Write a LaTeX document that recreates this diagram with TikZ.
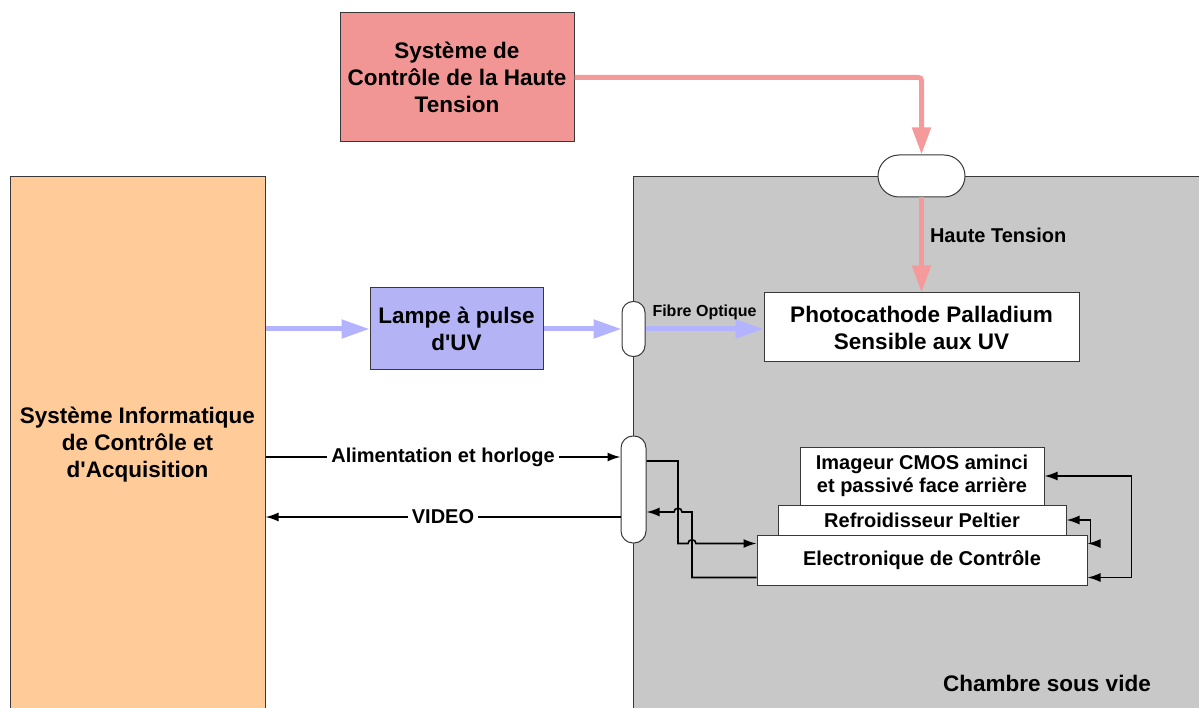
\documentclass[tikz,border=0pt]{standalone}
\usepackage{fontspec}
\setmainfont{Liberation Sans}
\usetikzlibrary{arrows.meta}

\definecolor{sicafond}{HTML}{FFCC99}
\definecolor{vide}{HTML}{C8C8C8}
\definecolor{htfond}{HTML}{F29595}
\definecolor{htligne}{HTML}{F59A9A}
\definecolor{uvfond}{HTML}{B3B3F5}
\definecolor{uvligne}{HTML}{B3B3FF}
\definecolor{bord}{HTML}{383838}

\begin{document}
\begin{tikzpicture}[x=1pt, y=-1pt,
	every node/.style={font=\bfseries\fontsize{22.5}{27}\selectfont, align=center, inner sep=0pt, text=black},
	box/.style={draw=bord, line width=1pt},
	petit/.style={font=\bfseries\fontsize{20}{23}\selectfont},
	lab/.style={font=\bfseries\fontsize{20}{24}\selectfont},
	passage/.style={draw=bord, fill=white, line width=1pt, rounded corners=#1},
	>={Latex[length=13pt, width=9pt]},
	ht/.style={htligne, line width=5pt, -{Triangle[length=27pt, width=18pt]}},
	uv/.style={uvligne, line width=5pt, -{Triangle[length=28pt, width=18pt]}},
	fil/.style={line width=1.6pt, ->}]
	\useasboundingbox (0,0) rectangle (1199,708);
	\clip (0,0) rectangle (1199,708);

	% grands blocs
	\node[box, fill=sicafond, minimum width=255pt, minimum height=535pt] (sica) at (137.5,444.5)
		{Système Informatique\\de Contrôle et\\d\textquotesingle Acquisition};
	\node[box, fill=vide, minimum width=572pt, minimum height=535pt] (chambre) at (919,444.5) {};
	\node (titre) at (1047,683) {Chambre sous vide};
	\node[box, fill=htfond, minimum width=234pt, minimum height=129pt] (htsys) at (457,77.5)
		{Système de\\Contrôle de la Haute\\Tension};
	\node[box, fill=uvfond, minimum width=173pt, minimum height=82pt] (lampe) at (456.5,329)
		{Lampe à pulse\\d\textquotesingle UV};
	\node[box, fill=white, minimum width=315pt, minimum height=69pt] (photo) at (921.5,327.5)
		{Photocathode Palladium\\Sensible aux UV};

	% passages etanches
	\node[passage=21pt, minimum width=87pt, minimum height=42pt] (ftht) at (921.5,176) {};
	\node[passage=11pt, minimum width=23pt, minimum height=55pt] (ftuv) at (633.5,329) {};
	\node[passage=12pt, minimum width=25pt, minimum height=107pt] (ftel) at (633.5,489.5) {};

	% camera
	\node[box, fill=white, petit, minimum width=244pt, minimum height=58pt] (img) at (922,476)
		{Imageur CMOS aminci\\et passivé face arrière};
	\node[box, fill=white, petit, minimum width=288pt, minimum height=30pt] (refr) at (922,520)
		{Refroidisseur Peltier};
	\node[box, fill=white, petit, minimum width=330pt, minimum height=50pt] (elec) at (922,560)
		{Electronique de Contrôle};

	% haute tension
	\draw[ht, rounded corners=3pt] (htsys.east) -| (ftht.north);
	\draw[ht] (ftht.south) -- (photo.north)
		node[pos=0.4, anchor=west, xshift=6pt, lab] {Haute Tension};

	% lumiere UV
	\draw[uv] (sica.east |- lampe.west) -- (lampe.west);
	\draw[uv] (lampe.east) -- (ftuv.west);
	\draw[uv] (ftuv.east) -- (photo.west |- ftuv.east)
		node[midway, above=7pt, font=\bfseries\fontsize{16}{18}\selectfont] {Fibre Optique};

	% signaux
	\coordinate (alim) at (0,457);
	\coordinate (video) at (0,517);
	\draw[fil] (sica.east |- alim) -- (ftel.west |- alim)
		node[midway, fill=white, inner sep=4pt, lab] {Alimentation et horloge};
	\draw[fil] (ftel.west |- video) -- (sica.east |- video)
		node[midway, fill=white, inner sep=4pt, lab] {VIDEO};

	\coordinate (k1) at (678,461);
	\coordinate (k2) at (692,512);
	\coordinate (e1) at ([yshift=-9pt]elec.north west);
	\coordinate (e2) at ([yshift=8pt]elec.south west);
	\draw[fil] (ftel.east |- k1) -- (k1) |- ([xshift=-4pt]k2 |- e1)
		.. controls +(0,-5) and +(0,-5) .. ([xshift=4pt]k2 |- e1) -- (e1);
	\draw[fil] (e2) -| (k2) -- ([xshift=4pt]k1 |- k2)
		.. controls +(0,-5) and +(0,-5) .. ([xshift=-4pt]k1 |- k2) -- (ftel.east |- k2);

	\draw[fil, <->] (img.east) -- ++(87,0) |- ([yshift=8pt]elec.south east);
	\draw[fil, <->] (refr.east) -- ++(24,0) |- ([yshift=-9pt]elec.north east);
\end{tikzpicture}
\end{document}
